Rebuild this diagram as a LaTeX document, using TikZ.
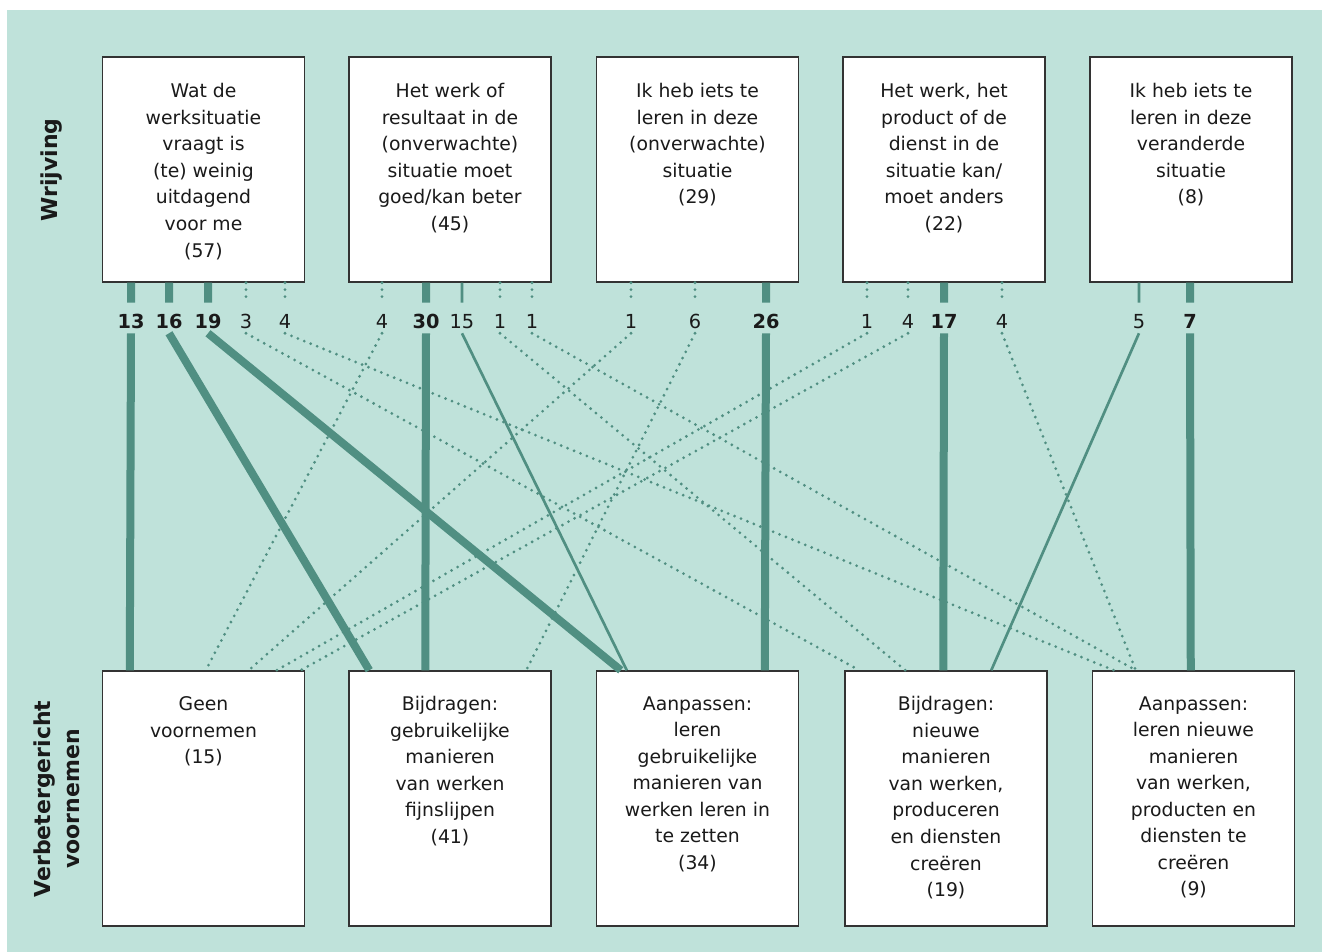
\documentclass[tikz,border=0pt]{standalone}
\usepackage{fontspec}
\setmainfont{DejaVu Sans}
\usetikzlibrary{calc}
\definecolor{bgteal}{RGB}{191,226,218}
\definecolor{flow}{RGB}{80,143,130}
\definecolor{edge}{RGB}{51,51,51}
\definecolor{ink}{RGB}{26,26,26}
\begin{document}
\begin{tikzpicture}[x=0.75pt,y=-0.75pt,
  topbox/.style={draw=edge,line width=1.1pt,fill=white,inner sep=0pt,
    minimum width=151.5pt,minimum height=168.75pt},
  botbox/.style={topbox,minimum height=191.25pt},
  boxtext/.style={font=\fontsize{14.1pt}{19.9pt}\selectfont,align=center,
    anchor=north,inner sep=0pt,text=ink},
  count/.style={font=\fontsize{14.5pt}{16pt}\selectfont,inner sep=0pt,
    minimum height=22.5pt,text height=15.1pt,text depth=0pt,text=ink},
  countb/.style={count,font=\fontsize{14.5pt}{16pt}\selectfont\bfseries},
  side/.style={font=\fontsize{16.5pt}{22pt}\selectfont\bfseries,align=center,
    rotate=90,inner sep=0pt,text=ink},
  heavy/.style={draw=flow,line width=6pt},
  slim/.style={draw=flow,line width=2pt},
  dots/.style={draw=flow,line width=2.3pt,line cap=round,dash pattern=on 0pt off 5.2pt}]

\useasboundingbox (0,0) rectangle (1322,952);
\fill[white] (0,0) rectangle (1322,952);
\fill[bgteal] (7,10) rectangle (1322,952);

% axis titles
\node[side] (wrijving) at (52,170) {Wrijving};
\node[side] (voornemen) at (57,799) {Verbetergericht\\voornemen};

% friction boxes (top row)
\node[topbox] (t1) at (203.5,169.5) {};
\node[topbox] (t2) at (450,169.5) {};
\node[topbox] (t3) at (697.5,169.5) {};
\node[topbox] (t4) at (944,169.5) {};
\node[topbox] (t5) at (1191,169.5) {};
\node[boxtext] (t1txt) at ($(t1.north)+(0,27)$) {Wat de\\werksituatie\\vraagt is\\(te) weinig\\uitdagend\\voor me\\(57)};
\node[boxtext] (t2txt) at ($(t2.north)+(0,27)$) {Het werk of\\resultaat in de\\(onverwachte)\\situatie moet\\goed/kan beter\\(45)};
\node[boxtext] (t3txt) at ($(t3.north)+(0,27)$) {Ik heb iets te\\leren in deze\\(onverwachte)\\situatie\\(29)};
\node[boxtext] (t4txt) at ($(t4.north)+(0,27)$) {Het werk, het\\product of de\\dienst in de\\situatie kan/\\moet anders\\(22)};
\node[boxtext] (t5txt) at ($(t5.north)+(0,27)$) {Ik heb iets te\\leren in deze\\veranderde\\situatie\\(8)};

% intention boxes (bottom row)
\node[botbox] (b1) at (203.5,798.5) {};
\node[botbox] (b2) at (450,798.5) {};
\node[botbox] (b3) at (697.5,798.5) {};
\node[botbox] (b4) at (946,798.5) {};
\node[botbox] (b5) at (1193.5,798.5) {};
\node[boxtext] (b1txt) at ($(b1.north)+(0,26)$) {Geen\\voornemen\\(15)};
\node[boxtext] (b2txt) at ($(b2.north)+(0,26)$) {Bijdragen:\\gebruikelijke\\manieren\\van werken\\fijnslijpen\\(41)};
\node[boxtext] (b3txt) at ($(b3.north)+(0,26)$) {Aanpassen:\\leren\\gebruikelijke\\manieren van\\werken leren in\\te zetten\\(34)};
\node[boxtext] (b4txt) at ($(b4.north)+(0,26)$) {Bijdragen:\\nieuwe\\manieren\\van werken,\\produceren\\en diensten\\creëren\\(19)};
\node[boxtext] (b5txt) at ($(b5.north)+(0,26)$) {Aanpassen:\\leren nieuwe\\manieren\\van werken,\\producten en\\diensten te\\creëren\\(9)};

% counts under the friction boxes
\node[countb] (c1a) at (131,318) {13};
\node[countb] (c1b) at (169,318) {16};
\node[countb] (c1c) at (208,318) {19};
\node[count]  (c1d) at (246,318) {3};
\node[count]  (c1e) at (285,318) {4};
\node[count]  (c2a) at (382,318) {4};
\node[countb] (c2b) at (426,318) {30};
\node[count]  (c2c) at (462,318) {15};
\node[count]  (c2d) at (500,318) {1};
\node[count]  (c2e) at (532,318) {1};
\node[count]  (c3a) at (631,318) {1};
\node[count]  (c3b) at (695,318) {6};
\node[countb] (c3c) at (766,318) {26};
\node[count]  (c4a) at (867,318) {1};
\node[count]  (c4b) at (908,318) {4};
\node[countb] (c4c) at (944,318) {17};
\node[count]  (c4d) at (1002,318) {4};
\node[count]  (c5a) at (1139,318) {5};
\node[countb] (c5b) at (1190,318) {7};

% flows from friction to intention
\draw[heavy] (t1.south -| c1a) -- (c1a.north) (c1a.south) -- ($(b1.north west)+(28,0)$);
\draw[heavy] (t1.south -| c1b) -- (c1b.north) (c1b.south) -- ($(b2.north west)+(21,0)$);
\draw[heavy] (t1.south -| c1c) -- (c1c.north) (c1c.south) -- ($(b3.north west)+(25,0)$);
\draw[dots]  (t1.south -| c1d) -- (c1d.north) (c1d.south) -- ($(b4.north west)+(15,0)$);
\draw[dots]  (t1.south -| c1e) -- (c1e.north) (c1e.south) -- ($(b5.north west)+(22,0)$);

\draw[dots]  (t2.south -| c2a) -- (c2a.north) (c2a.south) -- ($(b1.north west)+(104,0)$);
\draw[heavy] (t2.south -| c2b) -- (c2b.north) (c2b.south) -- ($(b2.north west)+(77,0)$);
\draw[slim]  (t2.south -| c2c) -- (c2c.north) (c2c.south) -- ($(b3.north west)+(31,0)$);
\draw[dots]  (t2.south -| c2d) -- (c2d.north) (c2d.south) -- ($(b4.north west)+(61,0)$);
\draw[dots]  (t2.south -| c2e) -- (c2e.north) (c2e.south) -- ($(b5.north west)+(44,0)$);

\draw[dots]  (t3.south -| c3a) -- (c3a.north) (c3a.south) -- ($(b1.north west)+(147,0)$);
\draw[dots]  (t3.south -| c3b) -- (c3b.north) (c3b.south) -- ($(b2.north west)+(178,0)$);
\draw[heavy] (t3.south -| c3c) -- (c3c.north) (c3c.south) -- ($(b3.north west)+(169,0)$);

\draw[dots]  (t4.south -| c4a) -- (c4a.north) (c4a.south) -- ($(b1.north west)+(175,0)$);
\draw[dots]  (t4.south -| c4b) -- (c4b.north) (c4b.south) -- ($(b1.north west)+(199,0)$);
\draw[heavy] (t4.south -| c4c) -- (c4c.north) (c4c.south) -- ($(b4.north west)+(99,0)$);
\draw[dots]  (t4.south -| c4d) -- (c4d.north) (c4d.south) -- ($(b5.north west)+(44,0)$);

\draw[slim]  (t5.south -| c5a) -- (c5a.north) (c5a.south) -- ($(b4.north west)+(147,0)$);
\draw[heavy] (t5.south -| c5b) -- (c5b.north) (c5b.south) -- ($(b5.north west)+(99,0)$);
\end{tikzpicture}
\end{document}
